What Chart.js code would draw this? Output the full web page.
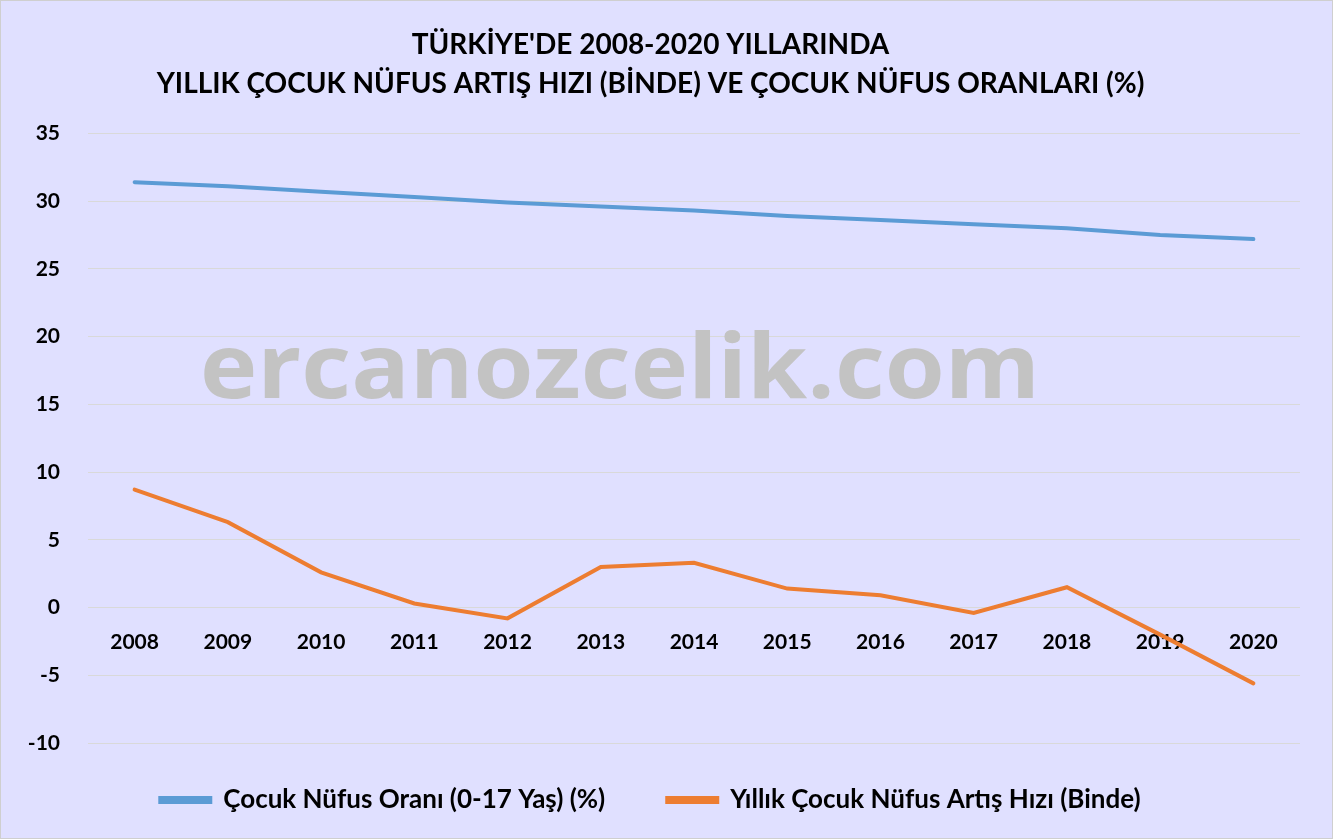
<!DOCTYPE html>
<html>
<head>
<meta charset="utf-8">
<script src="https://cdn.jsdelivr.net/npm/chart.js@4"></script>
<style>
  html, body { margin: 0; padding: 0; background: #fff; }
  #wrap {
    position: relative; width: 1331px; height: 837px;
    border: 1px solid #cfcfcf; background: #e0e0ff;
  }
</style>
</head>
<body>
<div id="wrap"><canvas id="chart" width="1331" height="837"></canvas></div>
<script>
// data
const years = ['2008', '2009', '2010', '2011', '2012', '2013', '2014', '2015', '2016', '2017', '2018', '2019', '2020'];
const childShare = [31.4, 31.1, 30.7, 30.3, 29.9, 29.6, 29.3, 28.9, 28.6, 28.3, 28.0, 27.5, 27.2];
const childGrowth = [8.7, 6.3, 2.6, 0.3, -0.8, 3.0, 3.3, 1.4, 0.9, -0.4, 1.5, -2.0, -5.6];
const titleLines = ["TÜRKİYE'DE 2008-2020 YILLARINDA", 'YILLIK ÇOCUK NÜFUS ARTIŞ HIZI (BİNDE) VE ÇOCUK NÜFUS ORANLARI (%)'];
const seriesNames = ['Çocuk Nüfus Oranı (0-17 Yaş) (%)', 'Yıllık Çocuk Nüfus Artış Hızı (Binde)'];
const watermark = 'ercanozcelik.com';

const FONT = 'Lato, "Open Sans", sans-serif';

// big grey site name behind the lines, stretched a bit to the original's width
const watermarkPlugin = {
  id: 'watermark',
  beforeDatasetsDraw(chart) {
    const { ctx } = chart;
    ctx.save();
    ctx.font = 'bold 90px "Open Sans", sans-serif';
    ctx.fillStyle = '#c3c3c3';
    ctx.textAlign = 'center';
    ctx.textBaseline = 'alphabetic';
    const w = ctx.measureText(watermark).width;
    ctx.translate(619, 397);
    ctx.scale(840 / w, 1);
    ctx.fillText(watermark, 0, 0);
    ctx.restore();
  }
};

new Chart(document.getElementById('chart'), {
  type: 'line',
  data: {
    labels: years,
    datasets: [
      {
        label: seriesNames[0],
        data: childShare,
        borderColor: '#5b9bd5',
        backgroundColor: '#5b9bd5',
        borderWidth: 4,
        pointRadius: 0,
        tension: 0,
        borderCapStyle: 'round'
      },
      {
        label: seriesNames[1],
        data: childGrowth,
        borderColor: '#ed7d31',
        backgroundColor: '#ed7d31',
        borderWidth: 4,
        pointRadius: 0,
        tension: 0,
        borderCapStyle: 'round'
      }
    ]
  },
  options: {
    responsive: false,
    animation: false,
    layout: { padding: { left: 0, right: 32, top: 0, bottom: 15 } },
    plugins: {
      title: {
        display: true,
        text: titleLines,
        color: '#000',
        font: { family: FONT, size: 28, weight: 'bold', lineHeight: 1.4 },
        padding: { top: 24, bottom: 30 }
      },
      legend: {
        position: 'bottom',
        // empty title only pushes the legend row down from the plot
        title: { display: true, text: ' ', font: { size: 1, lineHeight: 1 }, padding: { top: 33, bottom: 0 } },
        labels: {
          color: '#000',
          font: { family: FONT, size: 26, weight: 'bold' },
          boxWidth: 50,
          boxHeight: 4,
          padding: 10,
          generateLabels(chart) {
            const items = Chart.defaults.plugins.legend.labels.generateLabels(chart);
            items[0].text = items[0].text + '\u2002\u2002\u2002\u2002';
            return items;
          }
        }
      },
      tooltip: { enabled: false }
    },
    scales: {
      x: {
        position: { y: 0 },
        offset: true,
        grid: { display: false, drawTicks: false },
        border: { display: false },
        ticks: {
          color: '#000',
          font: { family: FONT, size: 21, weight: 'bold' },
          padding: 22,
          maxRotation: 0
        }
      },
      y: {
        min: -10,
        max: 35,
        afterFit(scale) { scale.width = 87; },
        grid: { color: '#d9d9d9', lineWidth: 1, drawTicks: false },
        border: { display: false },
        ticks: {
          stepSize: 5,
          color: '#000',
          font: { family: FONT, size: 21, weight: 'bold' },
          padding: 28
        }
      }
    }
  },
  plugins: [watermarkPlugin]
});
</script>
</body>
</html>
